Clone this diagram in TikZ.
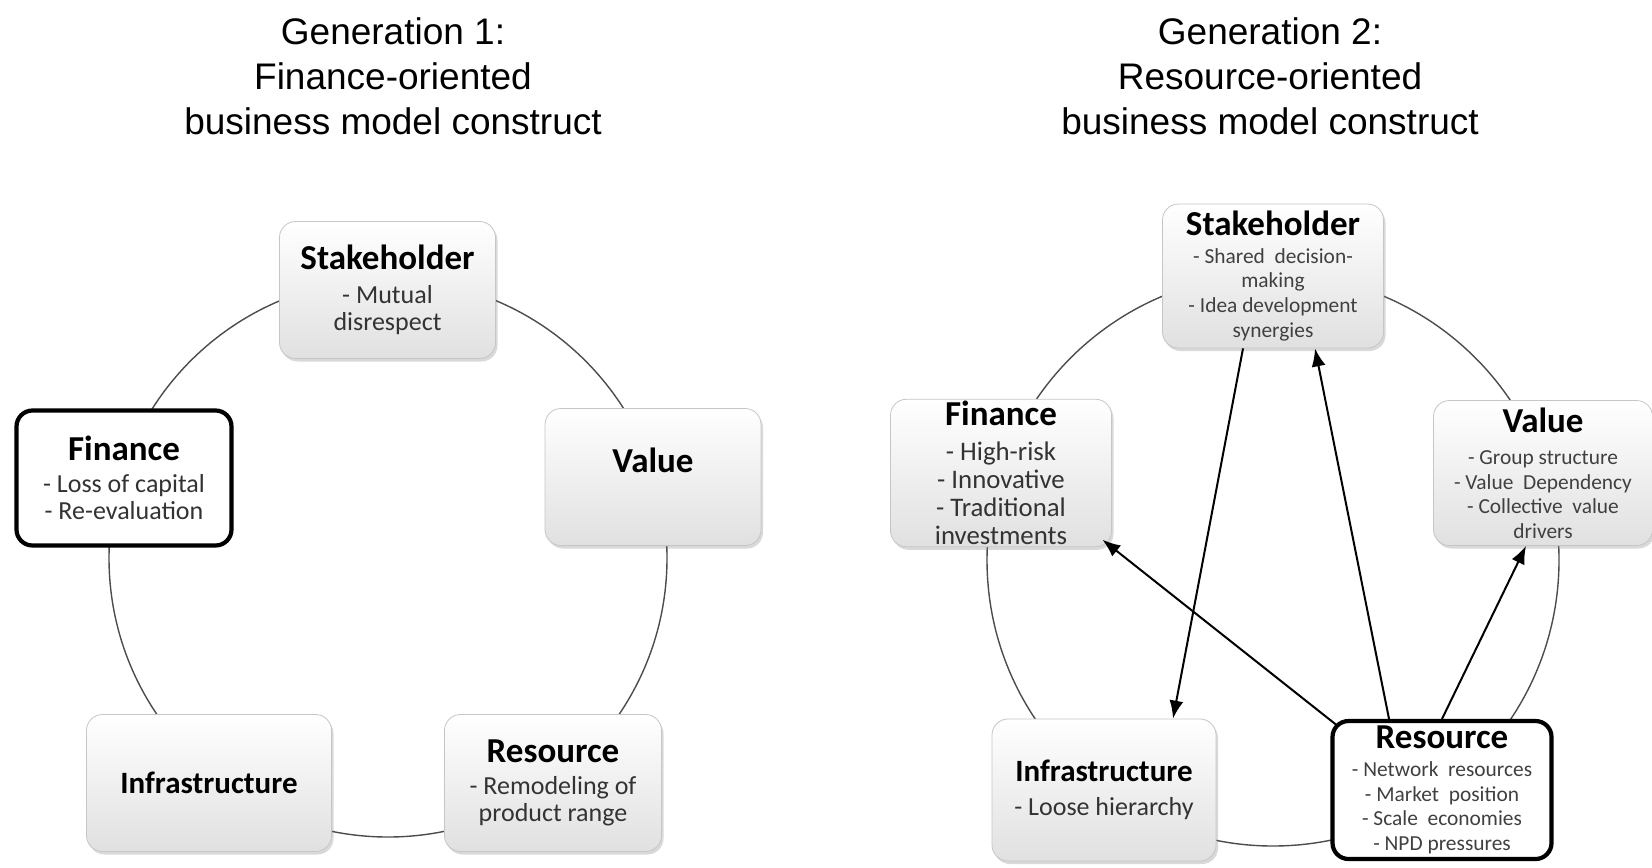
\documentclass[tikz,border=0pt]{standalone}
\usepackage{fontspec}
\setmainfont{Carlito}
\newfontfamily\titlefont{Liberation Sans}
\usetikzlibrary{arrows.meta,shadows}

\newcommand{\hd}{\fontsize{17.5}{19}\selectfont\bfseries\color{black}}
\newcommand{\hdi}{\fontsize{15.5}{17}\selectfont\bfseries\color{black}}

\begin{document}
\begin{tikzpicture}[x=0.5pt,y=-0.5pt,
    title/.style={font=\titlefont\fontsize{18.5}{22.5}\selectfont,align=center},
    box/.style={rectangle,rounded corners=8pt,draw=gray!45,top color=white,
                bottom color=gray!24,align=center,inner sep=1pt,
                drop shadow={opacity=0.3,shadow xshift=1pt,shadow yshift=-1.5pt}},
    keybox/.style={rectangle,rounded corners=8pt,draw=black,line width=2.1pt,
                   fill=white,align=center,inner sep=1pt},
    txt/.style={font=\fontsize{13}{13.7}\selectfont,text=black!80},
    tns/.style={font=\fontsize{10.7}{12.3}\selectfont,text=black!75},
    ring/.style={draw=black!70,line width=0.7pt},
    link/.style={-{Latex[length=9pt,width=7pt]},line width=1pt}]

  \useasboundingbox (0,0) rectangle (1652,867);

  % titles
  \node[title] (T1) at (393,76) {Generation 1:\\Finance-oriented\\business model construct};
  \node[title] (T2) at (1270,76) {Generation 2:\\Resource-oriented\\business model construct};

  % generation 1
  \draw[ring] (388,558) circle [radius=139.5pt];

  \node[box,txt,minimum width=108pt,minimum height=68.5pt]
    (S1) at (387.5,290) {\hd Stakeholder\\[3.3pt]- Mutual\\disrespect};
  \node[box,txt,minimum width=108pt,minimum height=68.5pt]
    (V1) at (653,477) {\hd Value\\[3.3pt]~};
  \node[keybox,txt,minimum width=107.5pt,minimum height=67.5pt]
    (F1) at (124,478) {\hd Finance\\[2pt]- Loss of capital\\- Re-evaluation};
  \node[box,txt,minimum width=122.5pt,minimum height=68.5pt]
    (I1) at (209,783) {\hdi Infrastructure};
  \node[box,txt,minimum width=108.5pt,minimum height=68.5pt]
    (R1) at (553,783) {\hd Resource\\[2pt]- Remodeling of\\product range};

  % generation 2
  \draw[ring] (1273,560) circle [radius=143pt];

  \node[box,tns,minimum width=110.5pt,minimum height=72pt]
    (S2) at (1273,276) {\hd Stakeholder\\[1.5pt]- Shared\ \ decision-\\making\\- Idea development\\synergies};
  \node[box,txt,font=\fontsize{13.4}{14}\selectfont,minimum width=110.5pt,minimum height=72.5pt]
    (F2) at (1001,473) {\hd Finance\\[3.4pt]- High-risk\\- Innovative\\- Traditional\\investments};
  \node[box,tns,minimum width=109.5pt,minimum height=72.5pt]
    (V2) at (1543,473) {\hd Value\\[4pt]- Group structure\\- Value\ \ Dependency\\- Collective\ \ value\\drivers};
  \node[box,txt,minimum width=112pt,minimum height=71pt]
    (I2) at (1104,790) {\hdi Infrastructure\\[3pt]- Loose hierarchy};
  \node[keybox,tns,minimum width=109.5pt,minimum height=69pt]
    (R2) at (1442,790) {\hd Resource\\[1.6pt]- Network\ \ resources\\- Market\ \ position\\- Scale\ \ economies\\- NPD pressures};

  \draw[link] ([xshift=-15pt]S2.south) -- ([xshift=34.5pt]I2.north);
  \draw[link] ([xshift=-26.5pt]R2.north) -- ([xshift=21pt]S2.south);
  \draw[link] ([shift={(3pt,-3pt)}]R2.north west) -- ([shift={(-4.75pt,3.75pt)}]F2.south east);
  \draw[link] (R2.north) -- ([xshift=-8.5pt]V2.south);

\end{tikzpicture}
\end{document}
